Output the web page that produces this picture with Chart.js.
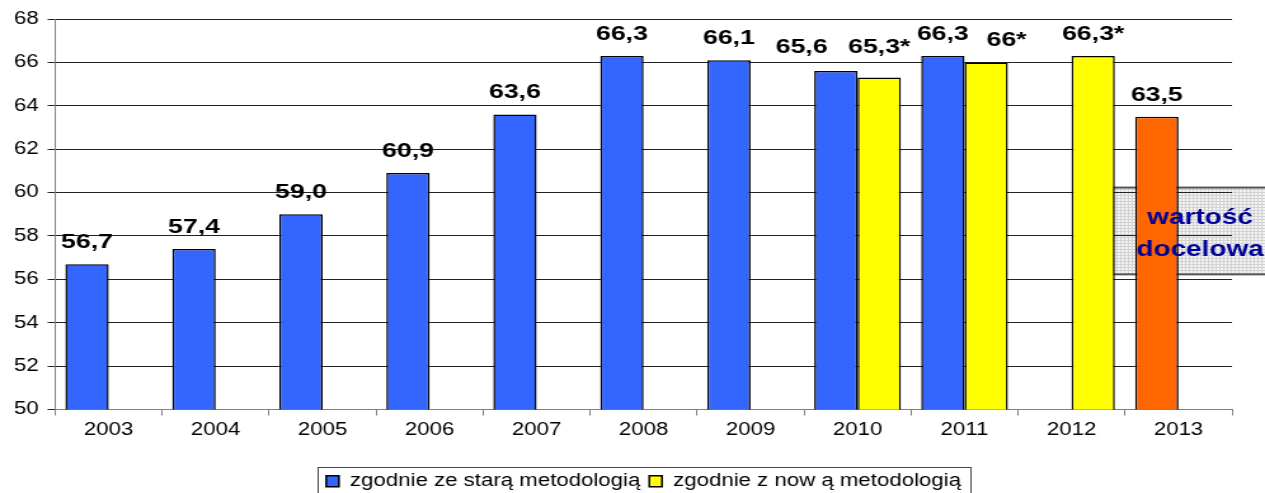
<!DOCTYPE html>
<html>
<head>
<meta charset="utf-8">
<script src="https://cdn.jsdelivr.net/npm/chart.js@4/dist/chart.umd.min.js"></script>
<style>
  html, body { margin: 0; padding: 0; background: #fff; }
  /* obraz oryginału jest rozciągnięty poziomo, więc rysujemy węższy canvas i go rozciągamy */
  #chart { display: block; width: 1265px; height: 493px; }
</style>
</head>
<body>
<canvas id="chart" width="996" height="493" style="width:1265px;height:493px"></canvas>
<script>
// dane
const years = ['2003','2004','2005','2006','2007','2008','2009','2010','2011','2012','2013'];
const oldMethod = [56.7, 57.4, 59.0, 60.9, 63.6, 66.3, 66.1, 65.6, 66.3, null, 63.5];
const newMethod = [null, null, null, null, null, null, null, 65.3, 66.0, 66.3, null];
const oldLabels = ['56,7','57,4','59,0','60,9','63,6','66,3','66,1','65,6','66,3','','63,5'];
const newLabels = ['','','','','','','','65,3*','66*','66,3*',''];
const yMin = 50, yMax = 68, yStep = 2;
const targetIndex = 10; // 2013 - wartość docelowa
const seriesNames = ['zgodnie ze starą metodologią', 'zgodnie z now ą metodologią'];

// kolory
const blue = '#3366FF', yellow = '#FFFF00', orange = '#FF6600';

// przesunięcia etykiet (px), tam gdzie w oryginale nie są nad środkiem słupka
const nudge = { '0-7': [-27, -2], '1-7': [0, -9], '1-8': [16, 0] };

const FONT = 'Arial, "Liberation Sans", sans-serif';

function makePattern(ctx) {
  const p = document.createElement('canvas');
  p.width = 3; p.height = 3;
  const c = p.getContext('2d');
  c.fillStyle = '#f4f4f4'; c.fillRect(0, 0, 3, 3);
  c.fillStyle = '#d2d2d2';
  c.fillRect(0, 0, 1, 3); c.fillRect(0, 0, 3, 1);
  return ctx.createPattern(p, 'repeat');
}

function targetBox(chart) {
  const x = chart.scales.x, y = chart.scales.y;
  const left = x.getPixelForValue(targetIndex) - 52;
  const top = y.getPixelForValue(60.23);
  const bottom = y.getPixelForValue(56.23);
  return { left, top, width: 150, height: bottom - top, cx: x.getPixelForValue(targetIndex) + 17 };
}

const decorPlugin = {
  id: 'decor',
  beforeDraw(chart) {
    const ctx = chart.ctx;
    ctx.save();
    ctx.fillStyle = '#fff';
    ctx.fillRect(0, 0, chart.width, chart.height);
    const b = targetBox(chart);
    ctx.fillStyle = makePattern(ctx);
    ctx.fillRect(b.left, b.top, b.width, b.height);
    ctx.strokeStyle = '#555';
    ctx.lineWidth = 2;
    ctx.strokeRect(b.left, b.top, b.width, b.height);
    ctx.restore();
  },
  afterDatasetsDraw(chart) {
    const ctx = chart.ctx;
    ctx.save();
    ctx.font = 'bold 21px ' + FONT;
    ctx.fillStyle = '#000';
    ctx.textAlign = 'center';
    ctx.textBaseline = 'alphabetic';
    [oldLabels, newLabels].forEach((labels, di) => {
      chart.getDatasetMeta(di).data.forEach((bar, i) => {
        const t = labels[i];
        if (!t) return;
        const n = nudge[di + '-' + i] || [0, 0];
        ctx.fillText(t, bar.x + n[0], bar.y - 16 + n[1]);
      });
    });
    const b = targetBox(chart);
    ctx.font = 'bold 22px ' + FONT;
    ctx.fillStyle = '#000099';
    ctx.fillText('wartość', b.cx, b.top + 36);
    ctx.fillText('docelowa', b.cx, b.top + 68);
    ctx.restore();
  },
  afterDraw(chart) {
    const boxes = chart.legend && chart.legend.legendHitBoxes;
    if (!boxes || !boxes.length) return;
    const first = boxes[0], last = boxes[boxes.length - 1];
    const ctx = chart.ctx;
    ctx.save();
    ctx.strokeStyle = '#444';
    ctx.lineWidth = 1;
    const l = Math.round(first.left - 7) + 0.5;
    const r = Math.round(last.left + last.width + 7) + 0.5;
    const t = Math.round(first.top - 6) + 0.5;
    ctx.strokeRect(l, t, r - l, chart.height + 10 - t);
    ctx.restore();
  }
};

new Chart(document.getElementById('chart'), {
  type: 'bar',
  data: {
    labels: years,
    datasets: [
      {
        label: seriesNames[0],
        data: oldMethod,
        backgroundColor: c => (c.dataIndex === targetIndex ? orange : blue),
        borderColor: '#000',
        borderWidth: 1.5,
        borderSkipped: false
      },
      {
        label: seriesNames[1],
        data: newMethod,
        backgroundColor: yellow,
        borderColor: '#000',
        borderWidth: 1.5,
        borderSkipped: false
      }
    ]
  },
  options: {
    responsive: false,
    animation: false,
    devicePixelRatio: 1,
    layout: { padding: { top: 19, left: 4, right: 26, bottom: -7 } },
    datasets: { bar: { categoryPercentage: 0.81, barPercentage: 1.0 } },
    scales: {
      x: {
        grid: { offset: true, drawOnChartArea: false, tickLength: 6, color: '#808080' },
        border: { color: '#808080', width: 1 },
        ticks: { color: '#000', font: { family: FONT, size: 17.5 }, padding: 4 },
        afterFit: s => { s.height += 21; }
      },
      y: {
        min: yMin, max: yMax,
        grid: { color: '#222', lineWidth: 1, tickLength: 6 },
        border: { color: '#808080', width: 1 },
        ticks: { stepSize: yStep, color: '#000', font: { family: FONT, size: 17.5 }, padding: 7 }
      }
    },
    plugins: {
      legend: {
        position: 'bottom',
        fullSize: false,
        labels: {
          color: '#000',
          font: { family: FONT, size: 17.5 },
          boxWidth: 10, boxHeight: 11, padding: 7,
          generateLabels: chart => chart.data.datasets.map((ds, i) => ({
            text: ds.label,
            fillStyle: i === 0 ? blue : yellow,
            strokeStyle: '#000',
            lineWidth: 1.5,
            datasetIndex: i
          }))
        }
      },
      tooltip: { enabled: false }
    }
  },
  plugins: [decorPlugin]
});
</script>
</body>
</html>
